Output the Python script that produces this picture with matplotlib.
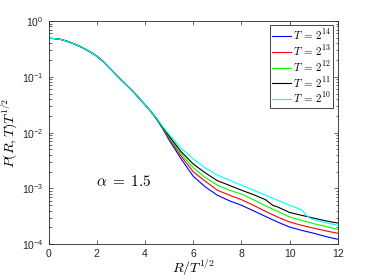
import numpy as np
import matplotlib
matplotlib.use("Agg")
import matplotlib.pyplot as plt

plt.rcParams['font.family'] = ['Liberation Sans', 'DejaVu Sans']
plt.rcParams['mathtext.fontset'] = 'custom'
plt.rcParams['mathtext.rm'] = 'Liberation Sans'
plt.rcParams['mathtext.it'] = 'Liberation Sans:italic'

# common part of all curves
x_head = [0, 0.25, 0.5, 0.75, 1, 1.25, 1.5, 1.75, 2, 2.25, 2.5, 2.75,
          3, 3.25, 3.5, 3.75, 4, 4.25]
p_head = [0.490, 0.484, 0.468, 0.437, 0.398, 0.359, 0.316, 0.275, 0.234,
          0.191, 0.148, 0.115, 0.0891, 0.0700, 0.0550, 0.0417, 0.0316,
          0.0237]

x_tail = [4.5, 4.75, 5, 5.5, 6, 6.5, 7, 7.5, 8, 8.5, 9, 9.5, 10, 10.5, 11,
          11.5, 12]
p_t14 = [0.0170, 0.0115, 0.00741, 0.00339, 0.00166, 0.00107, 0.000759,
         0.000603, 0.000501, 0.000398, 0.000316, 0.000251, 0.000204,
         0.000178, 0.000158, 0.000138, 0.000123]
p_t13 = [0.0172, 0.0117, 0.00794, 0.00380, 0.00200, 0.00135, 0.000933,
         0.000759, 0.000631, 0.000501, 0.000389, 0.000309, 0.000251,
         0.000219, 0.000195, 0.000174, 0.000158]
p_t12 = [0.0174, 0.0120, 0.00832, 0.00417, 0.00234, 0.00158, 0.00115,
         0.000933, 0.000794, 0.000631, 0.000490, 0.000389, 0.000309,
         0.000269, 0.000234, 0.000209, 0.000186]

x_t11 = [4.5, 4.75, 5, 5.5, 6, 6.5, 7, 7.5, 8, 8.5, 9, 9.3, 9.5, 10, 10.5,
         11, 11.5, 12]
p_t11 = [0.0176, 0.0123, 0.00871, 0.00457, 0.00275, 0.00191, 0.00138,
         0.00114, 0.000933, 0.000776, 0.000631, 0.000501, 0.000468,
         0.000372, 0.000331, 0.000295, 0.000263, 0.000240]

x_t10 = [4.5, 4.75, 5, 5.5, 6, 6.5, 7, 7.5, 8, 8.5, 9, 9.5, 10, 10.5, 10.7,
         10.8, 11, 11.5, 12]
p_t10 = [0.0178, 0.0126, 0.00933, 0.00525, 0.00339, 0.00234, 0.00174,
         0.00141, 0.00115, 0.000933, 0.000759, 0.000617, 0.000501,
         0.000417, 0.000331, 0.000302, 0.000275, 0.000245, 0.000219]

labels = [r'$T\,=\,2^{14}$', r'$T\,=\,2^{13}$', r'$T\,=\,2^{12}$',
          r'$T\,=\,2^{11}$', r'$T\,=\,2^{10}$']
colors = ['#0000ff', '#ff0000', '#00ff00', '#000000', '#00ffff']
series = [(x_tail, p_t14), (x_tail, p_t13), (x_tail, p_t12),
          (x_t11, p_t11), (x_t10, p_t10)]

fig = plt.figure(figsize=(3.74, 2.8), dpi=100)
ax = fig.add_axes([0.130, 0.1275, 0.773, 0.7975])

for (xt, pt), c, lab in zip(series, colors, labels):
    ax.semilogy(x_head + xt, p_head + pt, color=c, lw=0.8, label=lab)

ax.set_xlim(0, 12)
ax.set_ylim(1e-4, 1)
ax.set_xticks([0, 2, 4, 6, 8, 10, 12])

grey = '#262626'
for s in ax.spines.values():
    s.set_color(grey)
    s.set_linewidth(0.6)
ax.tick_params(which='both', direction='in', top=True, right=True,
               colors=grey, labelsize=7.5, width=0.5)
ax.tick_params(which='major', length=3)
ax.tick_params(which='minor', length=1.8)
ax.tick_params(axis='x', which='minor', bottom=False, top=False)

ax.set_xlabel(r'$R/T^{1/2}$', fontsize=10, math_fontfamily='cm', labelpad=-0.5)
ax.set_ylabel(r'$P(R,T)T^{1/2}$', fontsize=10, math_fontfamily='cm', labelpad=2)

ax.text(3.1, 10**-2.87, r'$\alpha\;=\;1.5$', fontsize=11, math_fontfamily='cm',
        ha='center', va='center')

leg = ax.legend(loc='upper right', handlelength=1.7,
                handletextpad=0.2, borderaxespad=0.4, borderpad=0.2,
                labelspacing=0.1, fancybox=False, framealpha=1,
                prop={'math_fontfamily': 'cm', 'size': 8})
leg.get_frame().set_edgecolor(grey)
leg.get_frame().set_linewidth(0.6)

fig.savefig('out.png', dpi=100)
